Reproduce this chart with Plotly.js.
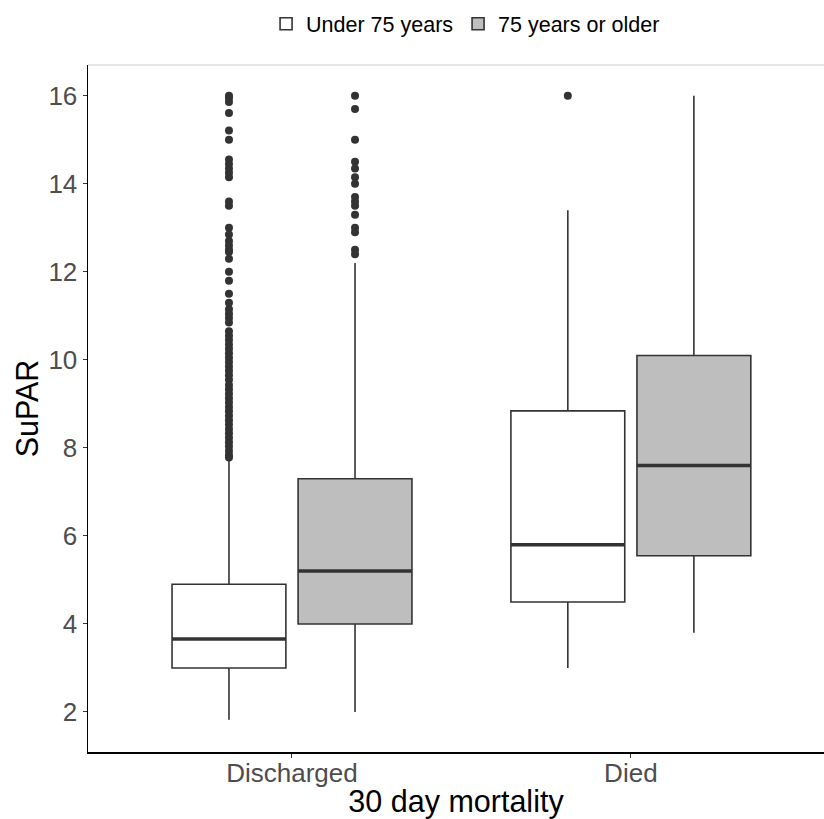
<!DOCTYPE html>
<html>
<head>
<meta charset="utf-8">
<script src="https://cdn.plot.ly/plotly-3.0.1.min.js"></script>
<style>html,body{margin:0;padding:0;background:#fff;}#chart{width:824px;height:819px;}</style>
</head>
<body>
<div id="chart"></div>
<script>
// Categories and groups
const categories = ["Discharged", "Died"];
const groups = ["Under 75 years", "75 years or older"];
const groupFill = ["#ffffff", "#bebebe"];

// Box statistics per group, ordered as categories
const q1Under = [3.0, 4.5];
const medianUnder = [3.66, 5.8];
const q3Under = [4.9, 8.84];
const lowerUnder = [1.82, 3.0];
const upperUnder = [7.75, 13.4];

const q1Older = [4.0, 5.55];
const medianOlder = [5.2, 7.6];
const q3Older = [7.3, 10.1];
const lowerOlder = [2.0, 3.8];
const upperOlder = [12.2, 16.0];

// Outliers
const outDischargedUnder = [16.0, 15.95, 15.86, 15.61, 15.21, 15.0, 14.55, 14.45, 14.35, 14.25, 14.15,
  13.6, 13.5, 13.0, 12.85, 12.7, 12.6, 12.5, 12.45, 12.3, 12.0, 11.8, 11.5, 11.3, 11.15, 11.05, 10.95, 10.85,
  10.65, 10.55, 10.45, 10.35, 10.25, 10.15, 10.05, 9.95, 9.85, 9.75, 9.65, 9.55,
  9.43, 9.33, 9.23, 9.13, 9.03, 8.93, 8.83, 8.73, 8.63, 8.53, 8.43, 8.33, 8.23, 8.13, 8.03, 7.93, 7.83, 7.78];
const outDischargedOlder = [16.0, 15.7, 15.0, 14.5, 14.35, 14.15, 14.0, 13.7, 13.6, 13.5, 13.3, 13.0, 12.9, 12.5, 12.4];
const outDiedUnder = [16.0];
const outDiedOlder = [];

// Positions on the numeric x axis
const catPos = [1, 2];
const groupOffset = [-0.186, 0.186];
const boxWidth = 0.336;

const stats = [
  {q1: q1Under, med: medianUnder, q3: q3Under, lo: lowerUnder, up: upperUnder, out: [outDischargedUnder, outDiedUnder]},
  {q1: q1Older, med: medianOlder, q3: q3Older, lo: lowerOlder, up: upperOlder, out: [outDischargedOlder, outDiedOlder]}
];

const traces = [];
stats.forEach((s, g) => {
  const xs = catPos.map(p => p + groupOffset[g]);
  traces.push({
    type: "box",
    name: groups[g],
    x: xs,
    q1: s.q1, median: s.med, q3: s.q3,
    lowerfence: s.lo, upperfence: s.up,
    width: boxWidth,
    whiskerwidth: 0,
    fillcolor: groupFill[g],
    line: {color: "#333333", width: 1.6},
    boxpoints: false,
    hoverinfo: "skip",
    showlegend: true
  });
  // thicker median line
  xs.forEach((x, i) => {
    traces.push({
      type: "scatter", mode: "lines",
      x: [x - boxWidth / 2, x + boxWidth / 2],
      y: [s.med[i], s.med[i]],
      line: {color: "#333333", width: 3.5},
      showlegend: false, hoverinfo: "skip"
    });
  });
  // outliers
  xs.forEach((x, i) => {
    if (s.out[i].length) {
      traces.push({
        type: "scatter", mode: "markers",
        x: s.out[i].map(() => x),
        y: s.out[i],
        marker: {color: "#333333", size: 8},
        showlegend: false, hoverinfo: "skip"
      });
    }
  });
});

const layout = {
  width: 824, height: 819,
  margin: {l: 88, r: 0, t: 65, b: 67},
  paper_bgcolor: "#ffffff",
  plot_bgcolor: "#ffffff",
  font: {family: "Liberation Sans, Arial, sans-serif", color: "#000"},
  showlegend: true,
  legend: {
    orientation: "h", x: 0.513, xanchor: "center", y: 1.06, yanchor: "middle",
    font: {size: 21.5, color: "#000"}, traceorder: "normal", itemwidth: 30
  },
  xaxis: {
    range: [0.398, 2.57],
    tickmode: "array", tickvals: catPos, ticktext: categories,
    showgrid: false, zeroline: false,
    showline: true, linecolor: "#000", linewidth: 1.5,
    ticks: "outside", ticklen: 4, tickcolor: "#333", tickwidth: 1,
    ticklabelstandoff: -7,
    tickfont: {size: 26, color: "#4d4d4d"},
    title: {text: "30 day mortality", font: {size: 30.5, color: "#000"}, standoff: 4}
  },
  yaxis: {
    range: [1.09, 16.70],
    tickvals: [2, 4, 6, 8, 10, 12, 14, 16],
    showgrid: false, zeroline: false,
    showline: true, linecolor: "#000", linewidth: 1.5,
    ticks: "outside", ticklen: 4, tickcolor: "#333", tickwidth: 1,
    tickfont: {size: 26, color: "#4d4d4d"},
    title: {text: "SuPAR", font: {size: 30.5, color: "#000"}, standoff: 0}
  },
  shapes: [{
    type: "line", xref: "paper", yref: "paper", x0: 0, x1: 1, y0: 1, y1: 1,
    line: {color: "#cccccc", width: 1}
  }]
};

Plotly.newPlot("chart", traces, layout, {displayModeBar: false, staticPlot: true});
</script>
</body>
</html>
